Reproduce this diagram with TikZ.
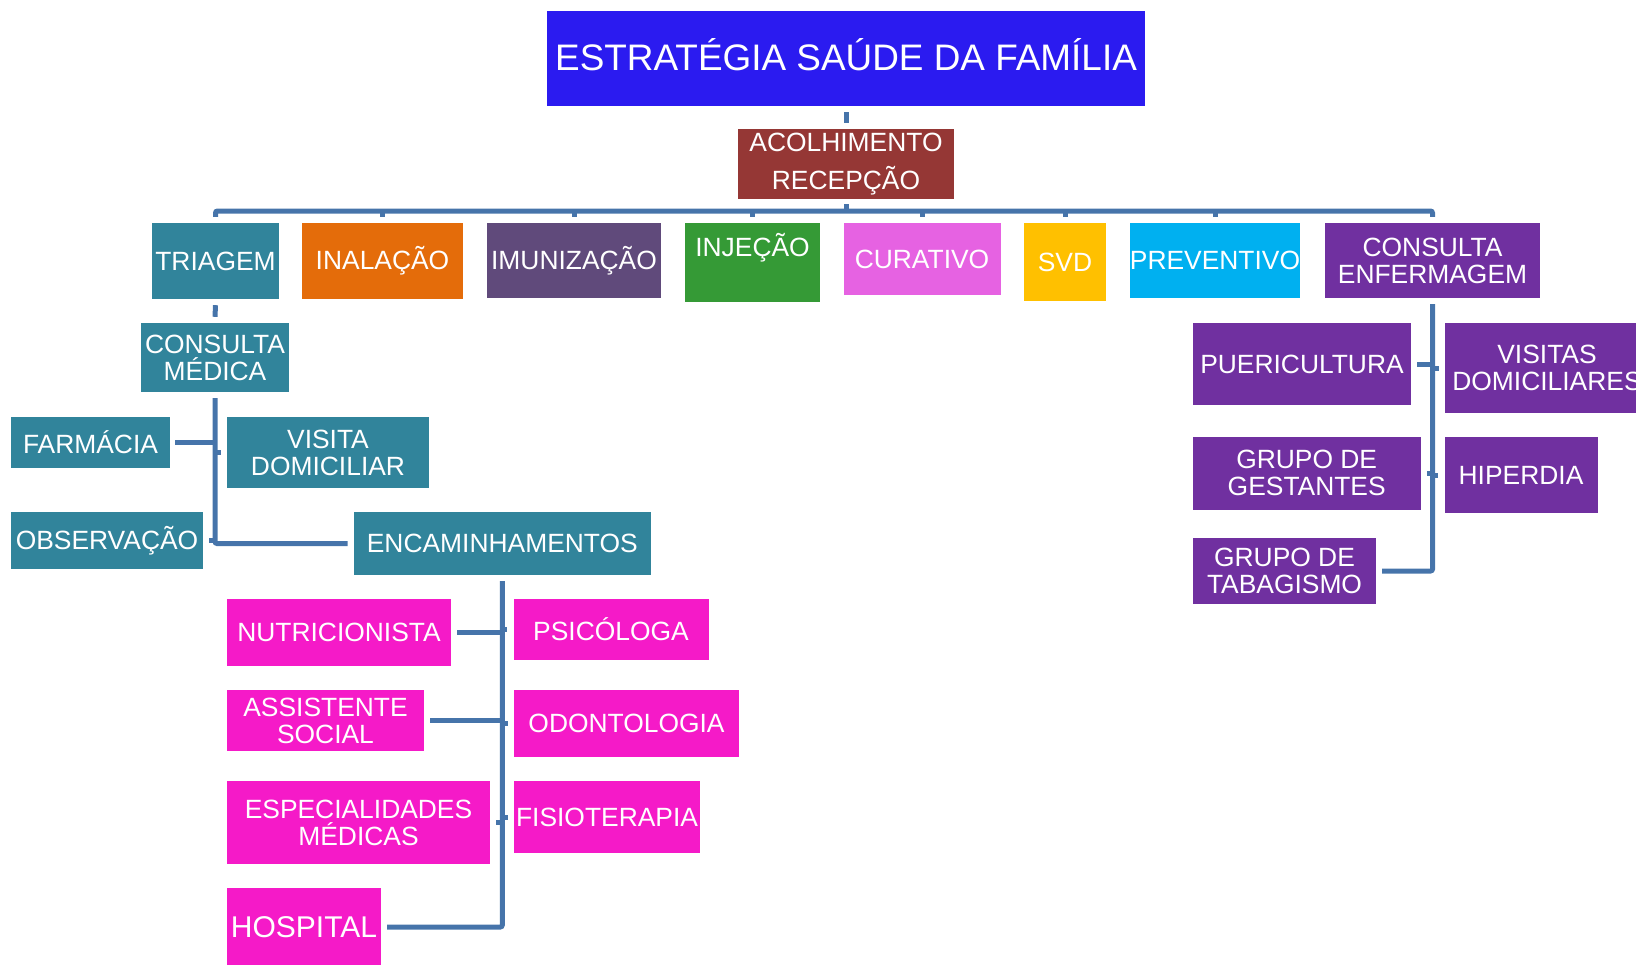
\documentclass[tikz,border=0pt]{standalone}
\usepackage{fontspec}
\setmainfont{Liberation Sans}

\definecolor{esfblue}{RGB}{43,27,240}
\definecolor{acolred}{RGB}{149,55,53}
\definecolor{esfteal}{RGB}{49,132,155}
\definecolor{esforange}{RGB}{228,108,10}
\definecolor{esfgrape}{RGB}{96,74,123}
\definecolor{esfgreen}{RGB}{53,154,54}
\definecolor{esforchid}{RGB}{230,98,226}
\definecolor{esfgold}{RGB}{255,192,0}
\definecolor{esfsky}{RGB}{0,176,240}
\definecolor{esfpurple}{RGB}{112,48,160}
\definecolor{esfpink}{RGB}{245,26,200}
\definecolor{esfline}{RGB}{70,116,170}

\begin{document}
\begin{tikzpicture}[x=1pt,y=-1pt,
  box/.style={text=white, inner sep=0pt, align=center, font=\fontsize{26.4}{27}\selectfont},
  conn/.style={draw=esfline, line width=5pt, rounded corners=2pt}]
\useasboundingbox (0,0) rectangle (1636,964);
% topo
\node[box, fill=esfblue, minimum width=598pt, minimum height=95pt, text height=27pt, text depth=3pt, font=\fontsize{36.9}{40}\selectfont] (esf) at (846,58.5) {ESTRATÉGIA SAÚDE DA FAMÍLIA};
\node[box, fill=acolred, minimum width=216pt, minimum height=70pt, font=\fontsize{26.4}{38}\selectfont] (acolh) at (846,164) {ACOLHIMENTO\\RECEPÇÃO};
% primeira linha
\node[box, fill=esfteal, minimum width=127pt, minimum height=76pt] (triagem) at (215.5,261) {TRIAGEM};
\node[box, fill=esforange, minimum width=161pt, minimum height=76pt] (inalacao) at (382.5,261) {INALAÇÃO};
\node[box, fill=esfgrape, minimum width=174pt, minimum height=75pt] (imuniz) at (574,260.5) {IMUNIZAÇÃO};
\node[box, fill=esfgreen, minimum width=135pt, minimum height=79pt] (injecao) at (752.5,262.5) {INJEÇÃO\\\strut};
\node[box, fill=esforchid, minimum width=157pt, minimum height=72pt] (curativo) at (922,259) {CURATIVO};
\node[box, fill=esfgold, minimum width=82pt, minimum height=78pt] (svd) at (1065,262) {SVD};
\node[box, fill=esfsky, minimum width=170pt, minimum height=75pt] (prevent) at (1215,260.5) {PREVENTIVO};
\node[box, fill=esfpurple, minimum width=215pt, minimum height=75pt] (consenf) at (1432.5,260.5) {CONSULTA\\ENFERMAGEM};
% consulta medica
\node[box, fill=esfteal, minimum width=148pt, minimum height=69pt] (consmed) at (215,357.5) {CONSULTA\\MÉDICA};
\node[box, fill=esfteal, minimum width=159pt, minimum height=51pt] (farmacia) at (90.5,442.5) {FARMÁCIA};
\node[box, fill=esfteal, minimum width=202pt, minimum height=71pt] (visdom) at (328,452.5) {VISITA\\DOMICILIAR};
\node[box, fill=esfteal, minimum width=192pt, minimum height=57pt] (observ) at (107,540.5) {OBSERVAÇÃO};
\node[box, fill=esfteal, minimum width=297pt, minimum height=63pt] (encam) at (502.3,543.5) {ENCAMINHAMENTOS};
% encaminhamentos
\node[box, fill=esfpink, minimum width=224pt, minimum height=67pt] (nutri) at (339,632.5) {NUTRICIONISTA};
\node[box, fill=esfpink, minimum width=195pt, minimum height=61pt] (psico) at (611,629.5) {PSICÓLOGA};
\node[box, fill=esfpink, minimum width=197pt, minimum height=61pt] (assist) at (325.5,720.5) {ASSISTENTE\\SOCIAL};
\node[box, fill=esfpink, minimum width=225pt, minimum height=67pt] (odonto) at (626.5,723.5) {ODONTOLOGIA};
\node[box, fill=esfpink, minimum width=263pt, minimum height=83pt] (espec) at (358.5,822.5) {ESPECIALIDADES\\MÉDICAS};
\node[box, fill=esfpink, minimum width=186pt, minimum height=72pt] (fisio) at (607,817) {FISIOTERAPIA};
\node[box, fill=esfpink, minimum width=154pt, minimum height=78pt, font=\fontsize{30}{32}\selectfont] (hospital) at (304,927) {HOSPITAL};
% consulta enfermagem
\node[box, fill=esfpurple, minimum width=218pt, minimum height=82pt] (puer) at (1302,364) {PUERICULTURA};
\node[box, fill=esfpurple, minimum width=204pt, minimum height=90pt] (visitas) at (1547,368) {VISITAS\\DOMICILIARES};
\node[box, fill=esfpurple, minimum width=228pt, minimum height=73pt] (gest) at (1306.7,473) {GRUPO DE\\GESTANTES};
\node[box, fill=esfpurple, minimum width=153pt, minimum height=76pt] (hiper) at (1521,475) {HIPERDIA};
\node[box, fill=esfpurple, minimum width=183pt, minimum height=66pt] (tabag) at (1284.5,571) {GRUPO DE\\TABAGISMO};
% ligacoes
\coordinate (bar) at (846,211);
\draw[conn] ([yshift=-6pt]esf.south) -- ([yshift=6pt]acolh.north);
\draw[conn] ([yshift=-5pt]acolh.south) -- (acolh.south |- bar);
\draw[conn] ([yshift=6pt]triagem.north) -- (triagem.north |- bar) -- (consenf.north |- bar) -- ([yshift=6pt]consenf.north);
\foreach \n in {inalacao,imuniz,injecao,curativo,svd,prevent}
  \draw[conn] ([yshift=6pt]\n.north) -- (\n.north |- bar);
\draw[conn] ([yshift=-6pt]triagem.south) -- ([yshift=6pt]consmed.north);
\draw[conn] ([yshift=-6pt]consmed.south) |- ([xshift=-6pt]encam.west);
\draw[conn] ([xshift=5pt]farmacia.east) -- (farmacia.east -| consmed.south);
\draw[conn] (visdom.west -| consmed.south) -- ([xshift=-6pt]visdom.west);
\draw[conn] ([xshift=6pt]observ.east) -- (observ.east -| consmed.south);
\draw[conn] ([yshift=-6pt]encam.south) |- ([xshift=6pt]hospital.east);
\foreach \n in {nutri,assist,espec}
  \draw[conn] ([xshift=6pt]\n.east) -- (\n.east -| encam.south);
\foreach \n in {psico,odonto,fisio}
  \draw[conn] (\n.west -| encam.south) -- ([xshift=-6pt]\n.west);
\draw[conn] ([yshift=-6pt]consenf.south) |- ([xshift=6pt]tabag.east);
\foreach \n in {puer,gest}
  \draw[conn] ([xshift=6pt]\n.east) -- (\n.east -| consenf.south);
\foreach \n in {visitas,hiper}
  \draw[conn] (\n.west -| consenf.south) -- ([xshift=-6pt]\n.west);
\end{tikzpicture}
\end{document}
